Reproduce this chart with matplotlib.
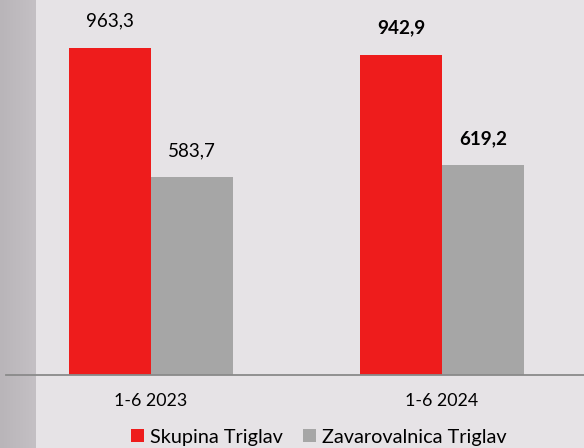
import matplotlib
matplotlib.use("Agg")
import matplotlib.pyplot as plt
import numpy as np
from matplotlib.colors import LinearSegmentedColormap

categories = ["1-6 2023", "1-6 2024"]
series_names = ["Skupina Triglav", "Zavarovalnica Triglav"]
skupina = [963.3, 942.9]
zavarovalnica = [583.7, 619.2]
labels_skupina = ["963,3", "942,9"]
labels_zav = ["583,7", "619,2"]
bold_flags = [False, True]

red = "#ee1c1c"
grey = "#a6a6a6"
bg = "#e6e3e6"

plt.rcParams['font.family'] = ['Lato', 'DejaVu Sans']

W, H = 584, 448
fig = plt.figure(figsize=(W / 100, H / 100), dpi=100, facecolor=bg)

# left darker strip (gradient)
sax = fig.add_axes([0, 0, 36 / W, 1])
grad = np.linspace(0, 1, 50).reshape(1, -1)
cmap = LinearSegmentedColormap.from_list("g", ["#b9b5b9", "#c4c0c4"])
sax.imshow(grad, aspect="auto", cmap=cmap, extent=[0, 1, 0, 1])
sax.set_axis_off()

ax = fig.add_axes([6 / W, (H - 375) / H, (W - 6) / W, 375 / H])
ax.set_facecolor("none")

x = np.arange(len(categories))
w = 0.282
ax.bar(x - w / 2, skupina, w, color=red, label=series_names[0])
ax.bar(x + w / 2, zavarovalnica, w, color=grey, label=series_names[1])

for i in range(len(categories)):
    fw = "bold" if bold_flags[i] else "normal"
    ax.annotate(labels_skupina[i], (x[i] - w / 2, skupina[i]), xytext=(0, 19.5),
                textcoords="offset points", ha="center", va="center",
                fontsize=13.6, fontweight=fw, color="#000000")
    ax.annotate(labels_zav[i], (x[i] + w / 2, zavarovalnica[i]), xytext=(0, 18.5),
                textcoords="offset points", ha="center", va="center",
                fontsize=13.6, fontweight=fw, color="#000000")

ax.set_xlim(-0.498, 1.488)
ax.set_ylim(0, 1104.5)
ax.set_yticks([])
ax.set_xticks(x)
ax.set_xticklabels(categories, fontsize=12.8, color="#000000")
ax.tick_params(axis="x", length=0, pad=13)
for s in ["top", "right", "left"]:
    ax.spines[s].set_visible(False)
ax.spines["bottom"].set_color("#8a8a8a")
ax.spines["bottom"].set_linewidth(1.3)

leg = fig.legend(loc="center", bbox_to_anchor=(319 / W, 1 - 437 / H), ncol=2,
                 frameon=False, fontsize=14.3, handlelength=0.65, handleheight=0.65,
                 handletextpad=0.3, columnspacing=1.0, borderpad=0)
for t in leg.get_texts():
    t.set_color("#000000")

fig.savefig("out.png", dpi=100, facecolor=bg)
